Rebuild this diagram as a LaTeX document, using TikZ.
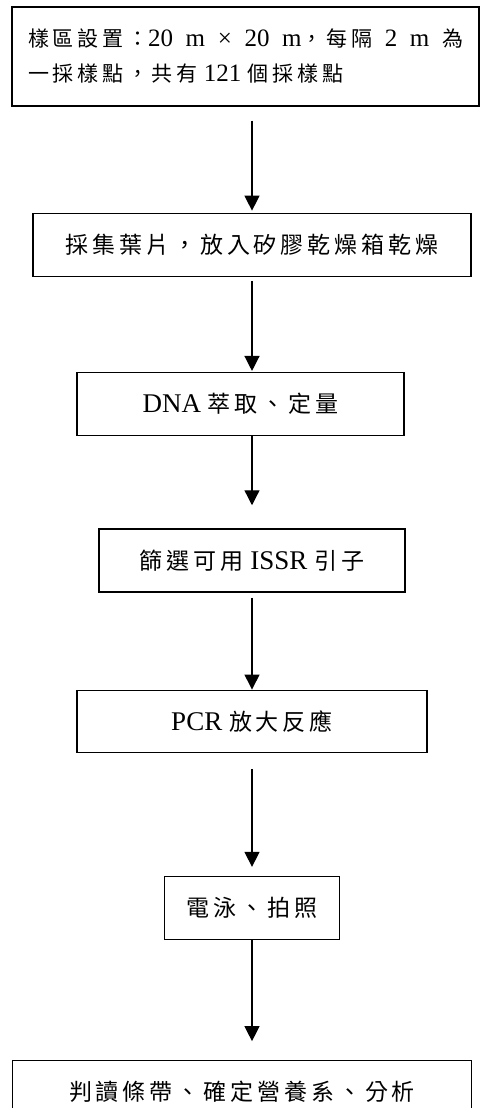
\documentclass[tikz,border=0pt]{standalone}
\usepackage{fontspec}
\setmainfont{Liberation Serif}
\newfontfamily\cjk[LetterSpace=17]{Noto Sans CJK TC}
\newfontfamily\cjkn[LetterSpace=18]{Noto Sans CJK TC}
\newcommand{\zh}[1]{{\cjk\fontsize{23}{30}\selectfont #1}}
\newcommand{\zhn}[1]{{\cjkn\fontsize{21}{35}\selectfont #1}}
\usetikzlibrary{arrows.meta,positioning}

\begin{document}
\begin{tikzpicture}[x=1pt, y=1pt,
  node distance=95pt,
  box/.style={draw, line width=1.3pt, inner sep=0pt, minimum height=63pt, font=\fontsize{27}{30}\selectfont},
  arrow/.style={-{Triangle[length=15pt, width=15pt]}, line width=1.3pt}
]
\useasboundingbox (0,0) rectangle (480,-1108);
\node[box, minimum width=467pt, minimum height=99pt, align=left, font=\fontsize{25}{35}\selectfont] (plot) at (245.5,-56.5)
  {\makebox[435pt][s]{\zhn{樣區設置：}20 m × 20 m\zhn{，每隔} 2 m \zhn{為}}\\\zhn{一採樣點，共有} 121 \zhn{個採樣點}};
\node[box, minimum width=438pt, below=106pt of plot, xshift=6.5pt] (leaf) {\zh{採集葉片，放入矽膠乾燥箱乾燥}};
\node[box, minimum width=327pt, below=95pt of leaf, xshift=-11.5pt] (dna) {DNA \zh{萃取、定量}};
\node[box, minimum width=306pt, below=92pt of dna, xshift=11.5pt] (primer) {\zh{篩選可用} ISSR \zh{引子}};
\node[box, minimum width=350pt, minimum height=62pt, below=97pt of primer] (pcr) {PCR \zh{放大反應}};
\node[box, minimum width=175pt, below=123pt of pcr] (gel) {\zh{電泳、拍照}};
\node[box, minimum width=459pt, minimum height=62pt, below=120pt of gel, xshift=-10pt] (band) {\zh{判讀條帶、確定營養系、分析}};

% steps, top to bottom
\draw[arrow, shorten <=14pt, shorten >=2pt] (plot.south -| leaf.north) -- (leaf.north);
\draw[arrow, shorten <=4pt, shorten >=1pt] (leaf.south) -- (leaf.south |- dna.north);
\draw[arrow, shorten >=23pt] (dna.south -| primer.north) -- (primer.north);
\draw[arrow, shorten <=5pt] (primer.south) -- (pcr.north);
\draw[arrow, shorten <=16pt, shorten >=9pt] (pcr.south) -- (pcr.south |- gel.north);
\draw[arrow, shorten >=19pt] (gel.south) -- (gel.south |- band.north);
\end{tikzpicture}
\end{document}
